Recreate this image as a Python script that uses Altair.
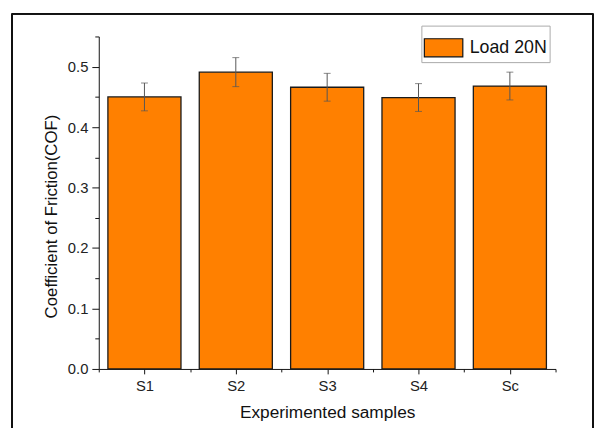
import altair as alt
import pandas as pd

samples = ["S1", "S2", "S3", "S4", "Sc"]
cof = [0.450, 0.491, 0.466, 0.449, 0.468]
err = [0.023, 0.024, 0.023, 0.023, 0.023]
series_name = "Load 20N"
y_major = [0.0, 0.1, 0.2, 0.3, 0.4, 0.5]
y_minor = [0.05, 0.15, 0.25, 0.35, 0.45, 0.55]
x_major = [0, 1, 2, 3, 4]
x_minor = [-0.5, 0.5, 1.5, 2.5, 3.5, 4.5]

df = pd.DataFrame({
    "Sample": samples,
    "COF": cof,
    "Err": err,
    "Series": [series_name] * len(samples),
    "Idx": list(range(len(samples))),
})

FONT = "Liberation Sans"
label_expr = "[" + ",".join("'%s'" % s for s in samples) + "][datum.value]"

base = alt.Chart(df).transform_calculate(
    lo="datum.COF - datum.Err", hi="datum.COF + datum.Err",
    x0="datum.Idx - 0.4", x1="datum.Idx + 0.4",
)

yscale = alt.Scale(domain=[0, 0.55], nice=False, zero=True)
xscale = alt.Scale(domain=[-0.5, 4.5], nice=False, zero=False)

bars = base.mark_bar(stroke="#1a1a1a", strokeWidth=1.3, opacity=1).encode(
    x=alt.X("x0:Q", scale=xscale,
            axis=alt.Axis(values=x_major, labelExpr=label_expr, title="Experimented samples",
                          labelAngle=0, tickSize=5, labelPadding=5, titleY=44,
                          titleBaseline="middle", titleFontSize=17.5,
                          titleFontWeight="normal", orient="bottom",
                          labelFontSize=15, labelFont=FONT, titleFont=FONT)),
    x2="x1:Q",
    y=alt.Y("COF:Q", scale=yscale,
            axis=alt.Axis(values=y_major, format=".1f", title="Coefficient of Friction(COF)",
                          tickSize=7, labelPadding=4, titleX=-48, titleY=182,
                          titleAlign="center", titleBaseline="middle", titleAngle=270,
                          titleFontSize=17, titleFontWeight="normal", orient="left",
                          labelFontSize=15, labelFont=FONT, titleFont=FONT)),
    y2=alt.datum(0),
    color=alt.Color("Series:N", scale=alt.Scale(domain=[series_name], range=["#FF8000"]),
                    legend=alt.Legend(title=None, orient="none", legendX=327, legendY=-11,
                                      strokeColor="#aaaaaa", fillColor="white", padding=2,
                                      symbolType="M-1,-0.47L1,-0.47L1,0.47L-1,0.47Z",
                                      symbolSize=1521, symbolStrokeColor="#111",
                                      symbolStrokeWidth=1.2, symbolOpacity=1,
                                      labelFont=FONT, labelFontSize=18, labelColor="#111",
                                      labelOffset=6, cornerRadius=0)),
)

rule = base.mark_rule(color="#555", strokeWidth=1).encode(
    x=alt.X("Idx:Q", scale=xscale, axis=None),
    y=alt.Y("lo:Q", scale=yscale, axis=None),
    y2="hi:Q",
)
cap_lo = base.mark_tick(color="#555", size=7, thickness=1, orient="horizontal").encode(
    x=alt.X("Idx:Q", scale=xscale, axis=None),
    y=alt.Y("lo:Q", scale=yscale, axis=None),
)
cap_hi = base.mark_tick(color="#555", size=7, thickness=1, orient="horizontal").encode(
    x=alt.X("Idx:Q", scale=xscale, axis=None),
    y=alt.Y("hi:Q", scale=yscale, axis=None),
)

minor = base.mark_point(opacity=0).encode(
    x=alt.X("Idx:Q", scale=xscale,
            axis=alt.Axis(values=x_minor, labels=False, tickSize=3, domain=False,
                          title=None, grid=False, orient="bottom")),
    y=alt.Y("COF:Q", scale=yscale,
            axis=alt.Axis(values=y_minor, labels=False, tickSize=4, domain=False,
                          title=None, grid=False, orient="left")),
)

frame_top = base.mark_rule(color="#111", strokeWidth=1.5).encode(
    x=alt.value(-88), x2=alt.value(501), y=alt.value(-23))
frame_left = base.mark_rule(color="#111", strokeWidth=1.5).encode(
    x=alt.value(-88), y=alt.value(-23), y2=alt.value(420))
frame_right = base.mark_rule(color="#111", strokeWidth=1.5).encode(
    x=alt.value(501), y=alt.value(-23), y2=alt.value(420))

chart = alt.layer(
    bars, rule, cap_lo, cap_hi, minor, frame_top, frame_left, frame_right
).resolve_axis(
    x="independent", y="independent"
).properties(
    width=463, height=337, background="white",
    autosize=alt.AutoSizeParams(type="none"),
    padding={"left": 92, "top": 26, "right": 41, "bottom": 57},
).configure_view(strokeWidth=0).configure_axis(
    grid=False, domainColor="#111", domainWidth=1, tickColor="#111", tickWidth=1,
    labelFont=FONT, labelFontSize=14, labelColor="#222", titleFont=FONT, titleColor="#111",
)

chart.save("out.html", embed_options={"renderer": "svg", "actions": False})
